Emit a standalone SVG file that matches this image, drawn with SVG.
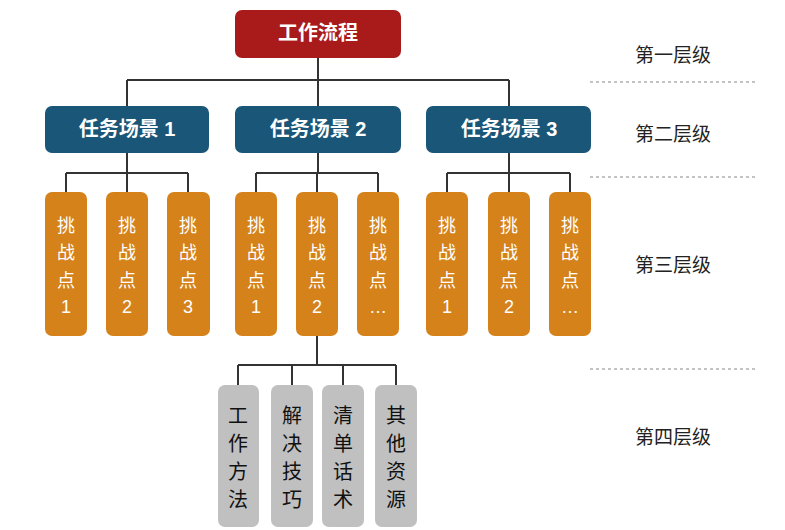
<svg xmlns="http://www.w3.org/2000/svg" width="785" height="530" viewBox="0 0 785 530">
<style>
text{font-family:"Liberation Sans","Noto Sans CJK SC",sans-serif;text-anchor:middle;dominant-baseline:central}
.l1{fill:#a91b1b}
.l2{fill:#1a5677}
.l3{fill:#d5821b}
.l4{fill:#c0c0c0}
.tw{fill:#fff}
.tb{fill:#111}
.t1{font-size:20px;font-weight:bold}
.t2{font-size:20px;font-weight:bold}
.t3{font-size:18px}
.t4{font-size:20px}
.lv{font-size:19px;fill:#222}
.c{fill:none;stroke:#333;stroke-width:2}
.d{stroke:#888;stroke-width:1.2;stroke-dasharray:3 3}
</style>
<g id="connectors">
<path class="c" d="M318 58V80M127 80H509M127 80V106M318 80V106M509 80V106"/>
<path class="c" d="M127 153V173M66 173H188M66 173V192M127 173V192M188 173V192"/>
<path class="c" d="M318 153V173M256 173H378M256 173V192M317 173V192M378 173V192"/>
<path class="c" d="M509 153V173M447 173H570M447 173V192M509 173V192M570 173V192"/>
<path class="c" d="M317 336V365M238 365H396M238 365V385M292 365V385M343 365V385M396 365V385"/>
</g>
<g id="separators">
<line class="d" x1="590" y1="82" x2="755" y2="82"/>
<line class="d" x1="590" y1="177" x2="755" y2="177"/>
<line class="d" x1="590" y1="369" x2="755" y2="369"/>
</g>
<g id="root"><rect class="l1" x="235" y="10" width="166" height="48" rx="7"/><text class="tw t1" x="318" y="33">工作流程</text></g>
<g id="s1"><rect class="l2" x="45" y="106" width="164" height="47" rx="7"/><text class="tw t2" x="127" y="129">任务场景 1</text></g>
<g id="s2"><rect class="l2" x="235" y="106" width="166" height="47" rx="7"/><text class="tw t2" x="318" y="129">任务场景 2</text></g>
<g id="s3"><rect class="l2" x="426" y="106" width="165" height="47" rx="7"/><text class="tw t2" x="509" y="129">任务场景 3</text></g>
<g id="c11"><rect class="l3" x="45" y="192" width="42" height="144" rx="7"/><text class="tw t3" x="66"><tspan x="66" y="226">挑</tspan><tspan x="66" y="253">战</tspan><tspan x="66" y="281">点</tspan><tspan x="66" y="307">1</tspan></text></g>
<g id="c12"><rect class="l3" x="106" y="192" width="42" height="144" rx="7"/><text class="tw t3" x="127"><tspan x="127" y="226">挑</tspan><tspan x="127" y="253">战</tspan><tspan x="127" y="281">点</tspan><tspan x="127" y="307">2</tspan></text></g>
<g id="c13"><rect class="l3" x="167" y="192" width="43" height="144" rx="7"/><text class="tw t3" x="188"><tspan x="188" y="226">挑</tspan><tspan x="188" y="253">战</tspan><tspan x="188" y="281">点</tspan><tspan x="188" y="307">3</tspan></text></g>
<g id="c21"><rect class="l3" x="235" y="192" width="42" height="144" rx="7"/><text class="tw t3" x="256"><tspan x="256" y="226">挑</tspan><tspan x="256" y="253">战</tspan><tspan x="256" y="281">点</tspan><tspan x="256" y="307">1</tspan></text></g>
<g id="c22"><rect class="l3" x="296" y="192" width="42" height="144" rx="7"/><text class="tw t3" x="317"><tspan x="317" y="226">挑</tspan><tspan x="317" y="253">战</tspan><tspan x="317" y="281">点</tspan><tspan x="317" y="307">2</tspan></text></g>
<g id="c23"><rect class="l3" x="357" y="192" width="42" height="144" rx="7"/><text class="tw t3" x="378"><tspan x="378" y="226">挑</tspan><tspan x="378" y="253">战</tspan><tspan x="378" y="281">点</tspan><tspan x="378" y="307">…</tspan></text></g>
<g id="c31"><rect class="l3" x="426" y="192" width="42" height="144" rx="7"/><text class="tw t3" x="447"><tspan x="447" y="226">挑</tspan><tspan x="447" y="253">战</tspan><tspan x="447" y="281">点</tspan><tspan x="447" y="307">1</tspan></text></g>
<g id="c32"><rect class="l3" x="488" y="192" width="42" height="144" rx="7"/><text class="tw t3" x="509"><tspan x="509" y="226">挑</tspan><tspan x="509" y="253">战</tspan><tspan x="509" y="281">点</tspan><tspan x="509" y="307">2</tspan></text></g>
<g id="c33"><rect class="l3" x="549" y="192" width="42" height="144" rx="7"/><text class="tw t3" x="570"><tspan x="570" y="226">挑</tspan><tspan x="570" y="253">战</tspan><tspan x="570" y="281">点</tspan><tspan x="570" y="307">…</tspan></text></g>
<g id="r1"><rect class="l4" x="218" y="385" width="41" height="142" rx="7"/><text class="tb t4" x="238"><tspan x="238" y="416">工</tspan><tspan x="238" y="444">作</tspan><tspan x="238" y="472">方</tspan><tspan x="238" y="500">法</tspan></text></g>
<g id="r2"><rect class="l4" x="271" y="385" width="42" height="142" rx="7"/><text class="tb t4" x="292"><tspan x="292" y="416">解</tspan><tspan x="292" y="444">决</tspan><tspan x="292" y="472">技</tspan><tspan x="292" y="500">巧</tspan></text></g>
<g id="r3"><rect class="l4" x="322" y="385" width="42" height="142" rx="7"/><text class="tb t4" x="343"><tspan x="343" y="416">清</tspan><tspan x="343" y="444">单</tspan><tspan x="343" y="472">话</tspan><tspan x="343" y="500">术</tspan></text></g>
<g id="r4"><rect class="l4" x="375" y="385" width="42" height="142" rx="7"/><text class="tb t4" x="396"><tspan x="396" y="416">其</tspan><tspan x="396" y="444">他</tspan><tspan x="396" y="472">资</tspan><tspan x="396" y="500">源</tspan></text></g>
<g id="levels">
<text class="lv" x="673" y="55">第一层级</text>
<text class="lv" x="673" y="134">第二层级</text>
<text class="lv" x="673" y="265">第三层级</text>
<text class="lv" x="673" y="437">第四层级</text>
</g>
</svg>
